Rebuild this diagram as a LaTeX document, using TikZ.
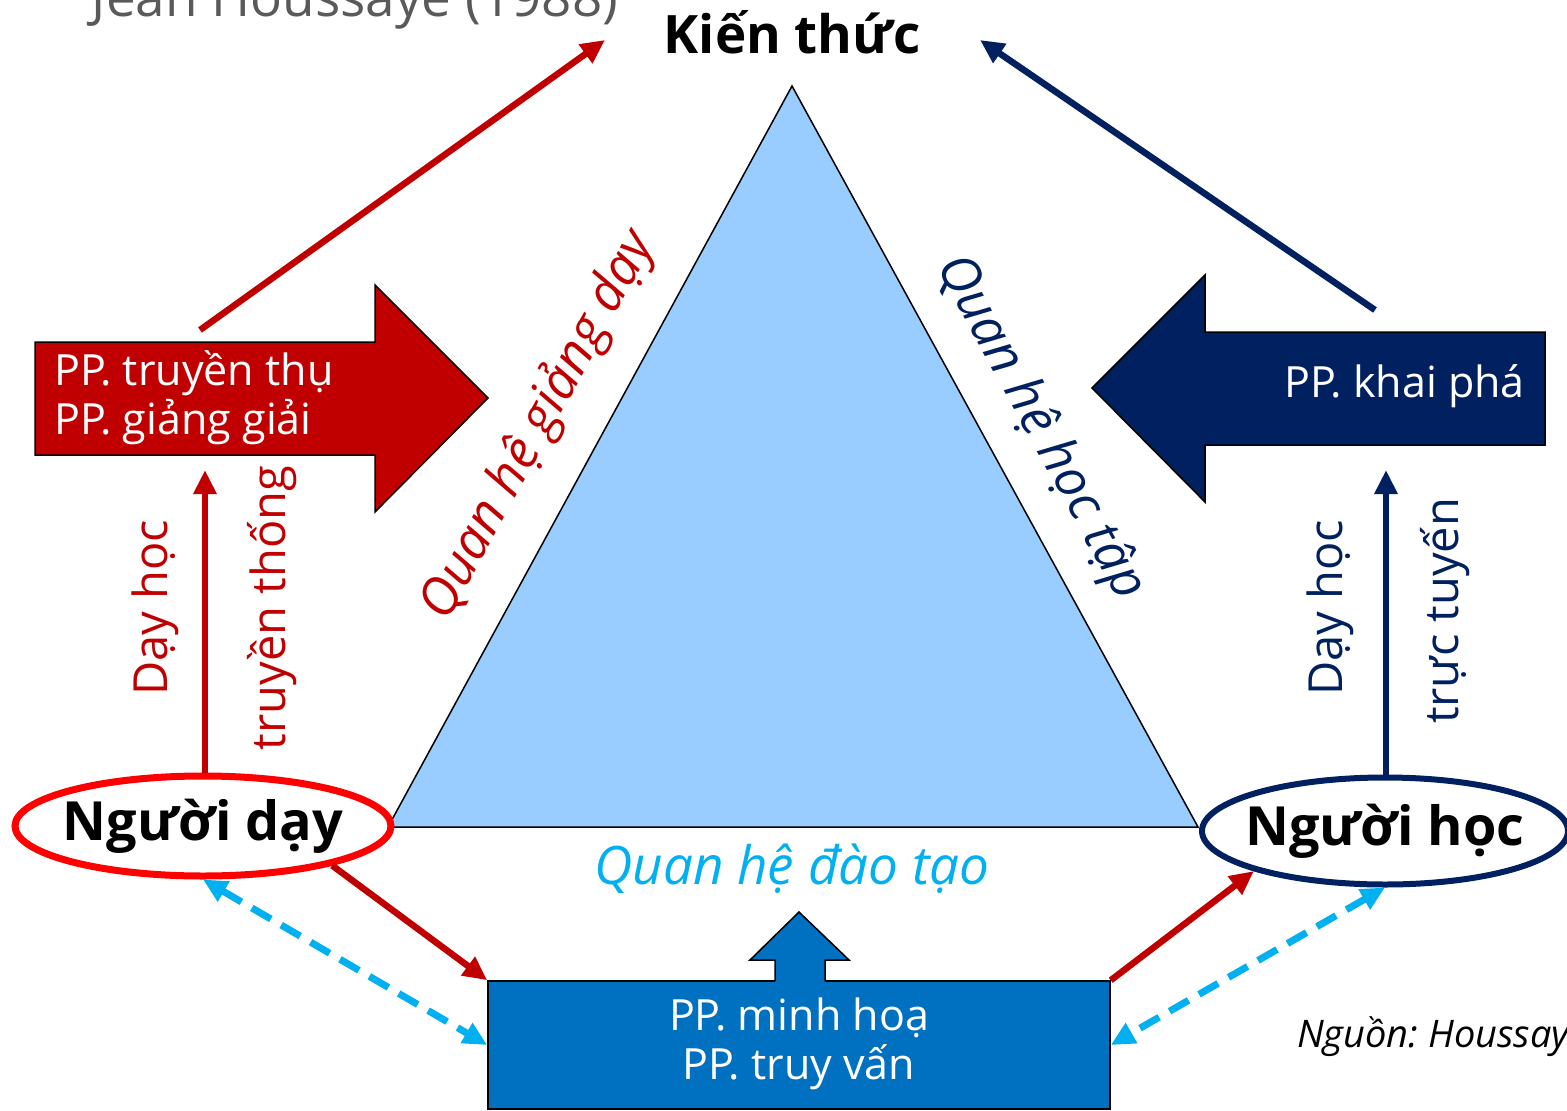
\documentclass[tikz,border=0pt]{standalone}
\usepackage{fontspec}
\setmainfont{Open Sans}
\usetikzlibrary{arrows.meta,shapes.geometric}
\definecolor{dred}{HTML}{C00000}
\definecolor{navy}{HTML}{002060}
\definecolor{trifill}{HTML}{99CCFF}
\definecolor{boxblue}{HTML}{0070C0}
\definecolor{cyanx}{HTML}{00B0F0}
\definecolor{grayt}{HTML}{595959}
\frenchspacing
\begin{document}
\begin{tikzpicture}[x=1pt,y=-1pt,
  conn/.style={line width=6.5pt,-{Triangle[length=24pt,width=22pt]}},
  dconn/.style={line width=7pt,cyanx,dash pattern=on 22pt off 12pt,{Triangle[length=24pt,width=22pt]}-{Triangle[length=24pt,width=22pt]}},
  blockshape/.style={draw=black,line width=1.5pt,line join=miter},
  pptext/.style={text=white,font=\fontsize{43}{49}\selectfont,inner sep=0pt},
  actor/.style={ellipse,fill=white,inner xsep=-15pt,inner ysep=0pt,font=\fontsize{54}{60}\selectfont\bfseries},
  vlabel/.style={rotate=90,font=\fontsize{47}{52}\selectfont,inner sep=0pt}
]
\useasboundingbox (0,0) rectangle (1567,1111);

% triangle
\coordinate (ta) at (792,86);
\coordinate (tl) at (388,827);
\coordinate (tr) at (1198,827);
\draw[fill=trifill,line width=1.5pt,line join=miter] (ta) -- (tl) -- (tr) -- cycle;

% title (cut off)
\node[anchor=base,text=grayt,font=\fontsize{53}{58}\selectfont,inner sep=0pt] (title) at (355,16) {Jean Houssaye (1988)};

% top node
\node[font=\fontsize{53}{58}\selectfont\bfseries,inner sep=0pt] (kt) at (792,32) {Kiến thức};

% block arrows
\draw[blockshape,fill=dred] (35,342) -- (375,342) -- (375,285) -- (488,398) -- (375,512) -- (375,455) -- (35,455) -- cycle;
\node[pptext,anchor=west,align=left] (pp1) at (54,398) {PP. truyền thụ\\PP. giảng giải};
\draw[blockshape,fill=navy] (1545,332) -- (1205,332) -- (1205,275) -- (1092,388) -- (1205,502) -- (1205,445) -- (1545,445) -- cycle;
\node[pptext,anchor=east] (pp2) at (1525,386) {PP. khai phá};

% bottom box
\node[draw=black,line width=1.5pt,fill=boxblue,minimum width=622pt,minimum height=128pt,inner sep=0pt] (box) at (799,1045) {};
\fill[boxblue] (775,983) -- (775,960) -- (750,960) -- (799,912) -- (849,960) -- (825,960) -- (825,983) -- cycle;
\draw[blockshape] (775,981) -- (775,960) -- (750,960) -- (799,912) -- (849,960) -- (825,960) -- (825,981);
\node[pptext,align=center] (pp3) at (799,1044) {PP. minh hoạ\\PP. truy vấn};

% actors
\node[actor,draw=red,line width=7pt,minimum width=376pt,minimum height=100pt] (day) at (203,826) {Người dạy};
\node[actor,draw=navy,line width=6pt,minimum width=366pt,minimum height=107pt] (hoc) at (1385,831) {Người học};

% relation labels
\node[rotate=61.4,text=dred,font=\fontsize{52}{56}\selectfont\itshape,inner sep=0pt] (qgd) at (538,425) {Quan hệ giảng dạy};
\node[rotate=-61.4,text=navy,font=\fontsize{52}{56}\selectfont\itshape,inner sep=0pt] (qht) at (1040,428) {Quan hệ học tập};
\node[text=cyanx,font=\fontsize{53}{58}\selectfont\itshape,inner sep=0pt] (qdt) at (792,869) {Quan hệ đào tạo};

% vertical labels
\node[vlabel,text=dred] (l1) at (155,608) {Dạy học};
\node[vlabel,text=dred] (l2) at (272,608) {truyền thống};
\node[vlabel,text=navy] (l3) at (1330,608) {Dạy học};
\node[vlabel,text=navy] (l4) at (1445,611) {trực tuyến};

% source
\node[anchor=base west,font=\fontsize{38}{42}\selectfont\itshape,inner sep=0pt] (src) at (1297,1047) {Nguồn: Houssaye (1988)};

% connectors
\coordinate (rs) at (200,330);
\coordinate (re) at (605,40);
\coordinate (ns) at (1375,310);
\coordinate (ne) at (980,40);
\draw[conn,dred] (rs) -- (re);
\draw[conn,navy] (ns) -- (ne);
\coordinate (vr) at (205,470);
\coordinate (vn) at (1386,470);
\draw[conn,dred] (day.north -| vr) -- (vr);
\draw[conn,navy] (hoc.north -| vn) -- (vn);
\draw[conn,dred] (day.-17) -- (box.north west);
\draw[conn,dred] (box.north east) -- (hoc.-163);
\draw[dconn] (day.south) -- (box.west);
\draw[dconn] (hoc.south) -- (box.east);
\end{tikzpicture}
\end{document}
